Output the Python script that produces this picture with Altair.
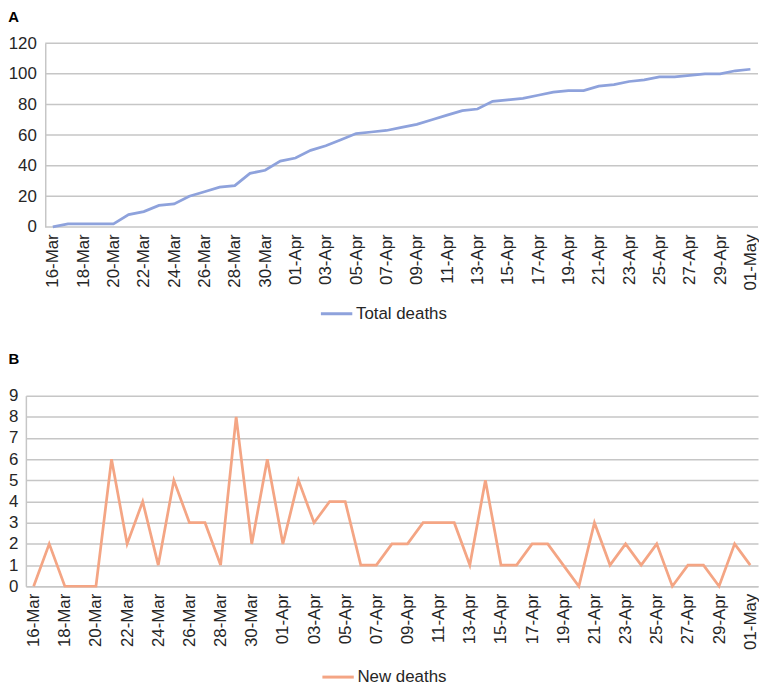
import altair as alt
import pandas as pd

dates = ["16-Mar", "17-Mar", "18-Mar", "19-Mar", "20-Mar", "21-Mar", "22-Mar", "23-Mar",
         "24-Mar", "25-Mar", "26-Mar", "27-Mar", "28-Mar", "29-Mar", "30-Mar", "31-Mar",
         "01-Apr", "02-Apr", "03-Apr", "04-Apr", "05-Apr", "06-Apr", "07-Apr", "08-Apr",
         "09-Apr", "10-Apr", "11-Apr", "12-Apr", "13-Apr", "14-Apr", "15-Apr", "16-Apr",
         "17-Apr", "18-Apr", "19-Apr", "20-Apr", "21-Apr", "22-Apr", "23-Apr", "24-Apr",
         "25-Apr", "26-Apr", "27-Apr", "28-Apr", "29-Apr", "30-Apr", "01-May"]

total_deaths = [0, 2, 2, 2, 2, 8, 10, 14, 15, 20, 23, 26, 27, 35, 37, 43,
                45, 50, 53, 57, 61, 62, 63, 65, 67, 70, 73, 76, 77, 82, 83, 84,
                86, 88, 89, 89, 92, 93, 95, 96, 98, 98, 99, 100, 100, 102, 103]

new_deaths = [0, 2, 0, 0, 0, 6, 2, 4, 1, 5, 3, 3, 1, 8, 2, 6,
              2, 5, 3, 4, 4, 1, 1, 2, 2, 3, 3, 3, 1, 5, 1, 1,
              2, 2, 1, 0, 3, 1, 2, 1, 2, 0, 1, 1, 0, 2, 1]

tick_dates = dates[::2]
ticks_a = [0, 20, 40, 60, 80, 100, 120]
ticks_b = [0, 1, 2, 3, 4, 5, 6, 7, 8, 9]

FONT = "Liberation Sans"
GRID = "#C6C6C6"
TEXT = "#262626"

W = 737.5      # plot width (panel B; panel A uses an inset range)
INSET_A = 19.5  # panel A plot starts this far right of panel B

df_a = pd.DataFrame({"date": dates, "value": total_deaths, "series": "Total deaths"})
df_b = pd.DataFrame({"date": dates, "value": new_deaths, "series": "New deaths"})
grid_a = pd.DataFrame({"value": ticks_a})


def x_axis(domain):
    return alt.Axis(
        values=tick_dates,
        labelAngle=270,
        labelAlign="right",
        labelBaseline="middle",
        labelPadding=7,
        labelFontSize=17,
        labelFont=FONT,
        labelColor=TEXT,
        ticks=False,
        grid=False,
        domain=domain,
        domainColor=GRID,
        domainWidth=1.5,
        title=None,
        labelOverlap=False,
    )


def y_axis(vals, grid, offset, pad):
    kw = dict(
        values=vals,
        labelFontSize=17,
        labelFont=FONT,
        labelColor=TEXT,
        labelPadding=pad,
        ticks=False,
        grid=grid,
        gridColor=GRID,
        gridWidth=1.5,
        domain=True,
        domainColor=GRID,
        domainWidth=1.5,
        title=None,
    )
    if offset:
        kw["offset"] = offset
    return alt.Axis(**kw)


def legend(x, y):
    return alt.Legend(
        title=None,
        orient="none",
        legendX=x,
        legendY=y,
        symbolType="stroke",
        symbolSize=1000,
        symbolStrokeWidth=3,
        labelFontSize=17,
        labelFont=FONT,
        labelColor=TEXT,
        labelOffset=2,
    )


y_scale_a = alt.Scale(domain=[0, 120], nice=False)
y_axis_a = y_axis(ticks_a, False, -INSET_A, 9)

grid_rules_a = alt.Chart(grid_a).mark_rule(color=GRID, strokeWidth=1.5).encode(
    y=alt.Y("value:Q", scale=y_scale_a, axis=y_axis_a),
    x=alt.value(INSET_A),
    x2=alt.value(W),
)

line_a = alt.Chart(df_a).mark_line(strokeWidth=2.75).encode(
    x=alt.X("date:N", sort=dates,
            scale=alt.Scale(type="point", range=[INSET_A, W], padding=0.5),
            axis=x_axis(False)),
    y=alt.Y("value:Q", scale=y_scale_a, axis=y_axis_a),
    color=alt.Color("series:N", scale=alt.Scale(domain=["Total deaths"], range=["#8EA2DC"]),
                    legend=legend(INSET_A + 276, 255)),
)

chart_a = alt.layer(grid_rules_a, line_a).properties(
    width=W, height=185,
    title=alt.TitleParams("A", anchor="start", fontSize=15, fontWeight="bold",
                          font=FONT, color="#000000", offset=9),
)

chart_b = alt.Chart(df_b).mark_line(strokeWidth=2.75).encode(
    x=alt.X("date:N", sort=dates, scale=alt.Scale(type="point", padding=0.5),
            axis=x_axis(True)),
    y=alt.Y("value:Q", scale=alt.Scale(domain=[0, 9], nice=False),
            axis=y_axis(ticks_b, True, 0, 8)),
    color=alt.Color("series:N", scale=alt.Scale(domain=["New deaths"], range=["#F4A584"]),
                    legend=legend(297, 266)),
).properties(
    width=W, height=192,
    title=alt.TitleParams("B", anchor="start", fontSize=15, fontWeight="bold",
                          font=FONT, color="#000000", offset=20),
)

chart = alt.vconcat(chart_a, chart_b, spacing=30).resolve_scale(
    color="independent"
).configure_view(stroke=None).properties(padding=0)

chart.save("out.html", embed_options={"renderer": "svg", "actions": False})
